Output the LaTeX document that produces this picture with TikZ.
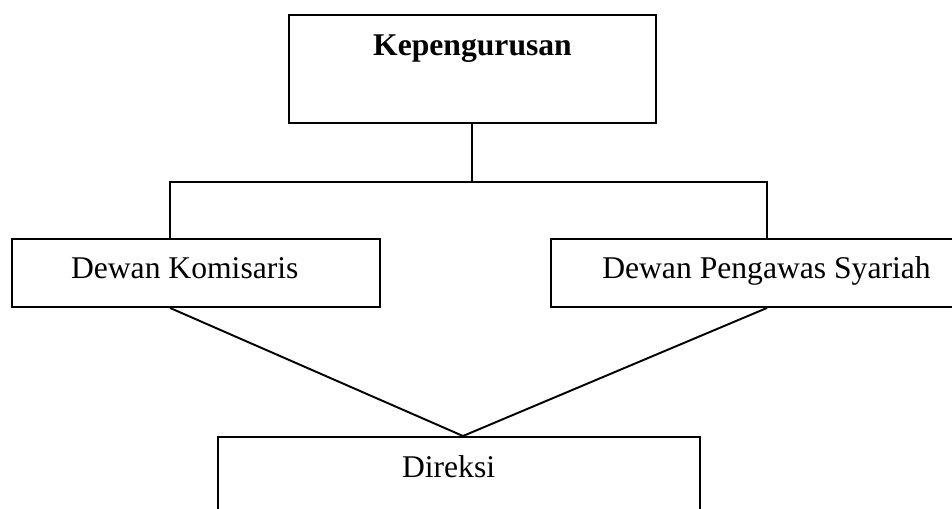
\documentclass[tikz,border=0pt]{standalone}
\usepackage{fontspec}
\setmainfont{Liberation Serif}
\usepackage{tikz}
\tikzstyle{box} = [rectangle, draw, line width=1.1pt, inner sep=0pt, anchor=north,
  font=\fontsize{18}{22}\selectfont, text centered]
\tikzstyle{line} = [draw, line width=1.1pt]

\begin{document}
\begin{tikzpicture}[x=0.02cm, y=-0.02cm]
    \clip (0,0) rectangle (952,508);
    \node[box, minimum width=7.34cm, text height=0.82cm, text depth=1.34cm] (kep) at (472.5,14) {\textbf{Kepengurusan}};
    \node[box, align=flush left, inner xsep=1.18cm, text width=5cm, text height=0.8cm, text depth=0.56cm] (kom) at (196,238) {Dewan Komisaris};
    \node[box, minimum width=8.62cm, text height=0.8cm, text depth=0.56cm] (pws) at (766.5,238) {Dewan Pengawas Syariah};
    \node[box, align=flush left, inner xsep=3.68cm, text width=2.28cm, text height=0.82cm, text depth=1.6cm] (dir) at (459,436) {Direksi};

    \coordinate (bus) at (472,182);
    \coordinate (kl) at (170,182);
    \coordinate (kr) at (767,182);
    \coordinate (meet) at (463,436);

    \path[line] (kep.south -| bus) -- (bus);
    \path[line] (kom.north -| kl) -- (kl) -- (kr) -- (pws.north -| kr);
    \path[line] (kom.south -| kl) -- (meet);
    \path[line] (pws.south -| kr) -- (meet);
  \end{tikzpicture}
\end{document}
